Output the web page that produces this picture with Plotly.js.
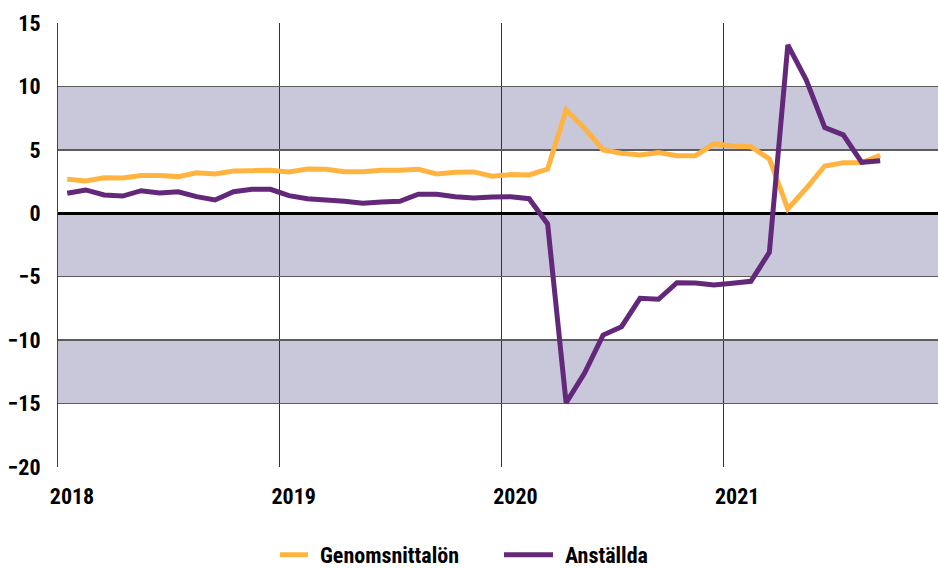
<!DOCTYPE html>
<html>
<head>
<meta charset="utf-8">
<script src="https://cdn.plot.ly/plotly-3.0.1.min.js"></script>
<style>html,body{margin:0;padding:0;background:#fff;}#chart{width:938px;height:568px;}</style>
</head>
<body>
<div id="chart"></div>
<script>
// Monthly observations, Jan 2018 – Sep 2021
const startYear = 2018;
const monthCount = 45;
const yearTicks = [2018, 2019, 2020, 2021];
const yearLabels = ["2018", "2019", "2020", "2021"];
const yTicks = [-20, -15, -10, -5, 0, 5, 10, 15];

const genomsnittalon = [
  2.68, 2.55, 2.80, 2.78, 2.97, 2.97, 2.89, 3.20, 3.10, 3.34, 3.36, 3.39,
  3.26, 3.49, 3.47, 3.28, 3.28, 3.39, 3.39, 3.47, 3.10, 3.23, 3.26, 2.92,
  3.05, 3.02, 3.49, 8.15, 6.70, 4.99, 4.73, 4.60, 4.78, 4.54, 4.54, 5.47,
  5.31, 5.25, 4.28, 0.34, 1.97, 3.73, 3.99, 4.00, 4.57
];
const anstallda = [
  1.58, 1.84, 1.44, 1.36, 1.78, 1.60, 1.70, 1.31, 1.05, 1.70, 1.89, 1.89,
  1.39, 1.15, 1.05, 0.95, 0.79, 0.89, 0.95, 1.50, 1.50, 1.31, 1.21, 1.29,
  1.31, 1.15, -0.84, -14.94, -12.60, -9.60, -8.94, -6.70, -6.78, -5.47, -5.50, -5.65,
  -5.52, -5.36, -3.08, 13.27, 10.50, 6.75, 6.18, 4.02, 4.15
];
const bands = [[5, 10], [-5, 0], [-15, -10]];

// month midpoints in decimal years
const xMonths = [];
for (let i = 0; i < monthCount; i++) xMonths.push(startYear + (i + 0.5) / 12);

const font = "'Roboto Condensed', 'Liberation Sans Narrow', sans-serif";
const tfont = {family: font, size: 22, color: "#000", weight: "bold"};

const traces = [
  {x: xMonths, y: genomsnittalon, name: "Genomsnittalön", type: "scatter", mode: "lines",
   line: {color: "#FFB441", width: 5, simplify: false}},
  {x: xMonths, y: anstallda, name: "Anställda", type: "scatter", mode: "lines",
   line: {color: "#63287A", width: 5, simplify: false}}
];

const shapes = bands.map(b => ({
  type: "rect", xref: "paper", yref: "y", x0: 0, x1: 1, y0: b[0], y1: b[1],
  fillcolor: "#C8C8DA", line: {width: 0}, layer: "below"
}));

const layout = {
  width: 938, height: 568,
  margin: {l: 58, r: 0, t: 23, b: 101},
  paper_bgcolor: "#fff", plot_bgcolor: "#fff",
  font: tfont,
  showlegend: true,
  legend: {orientation: "h", xref: "container", x: 0.2985, xanchor: "left",
           yref: "container", y: 0.0229, yanchor: "middle",
           font: tfont, entrywidth: 200, entrywidthmode: "pixels", traceorder: "normal"},
  xaxis: {
    range: [2018, 2021.969], tickvals: yearTicks, ticktext: yearLabels,
    showgrid: true, gridcolor: "#333", gridwidth: 1.2, zeroline: false,
    showline: false, ticks: "", ticklabelshift: 14, ticklabelstandoff: 14,
    tickfont: tfont, fixedrange: true
  },
  yaxis: {
    range: [-20, 15], tickvals: yTicks,
    showgrid: true, gridcolor: "#5c5c5c", gridwidth: 1.5,
    zeroline: true, zerolinecolor: "#000", zerolinewidth: 2.5,
    showline: true, linecolor: "#444", linewidth: 1,
    ticks: "", ticklabelstandoff: 12,
    tickfont: tfont, fixedrange: true
  },
  shapes: shapes
};

Plotly.newPlot("chart", traces, layout, {displayModeBar: false, staticPlot: true}).then(gd => {
  // lengthen the legend line samples to match the reference
  gd.querySelectorAll(".legend .legendlines path").forEach(p => {
    p.setAttribute("d", "M-21,0h49");
    p.style.strokeWidth = "5px";
  });
});
</script>
</body>
</html>
